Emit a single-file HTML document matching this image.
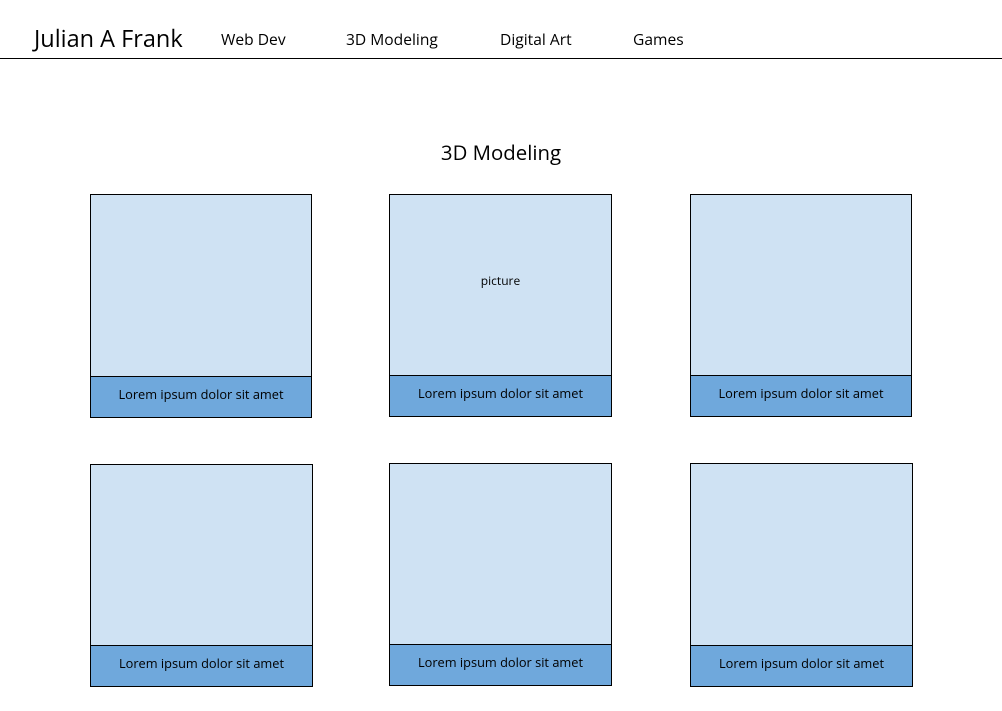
<!DOCTYPE html>
<html><head><style>
body{margin:0;width:1002px;height:711px;background:#fff;position:relative;font-family:"Open Sans","DejaVu Sans","Liberation Sans",sans-serif;color:#000;overflow:hidden}
.t{position:absolute;white-space:nowrap;line-height:1}
.p{position:absolute;background:#cfe2f3;border:1px solid #000;box-sizing:border-box}
.c{position:absolute;background:#6fa8dc;border:1px solid #000;box-sizing:border-box;font-size:12.8px;display:flex;align-items:center;justify-content:center;padding-bottom:6px}
</style></head><body>
<div class="t" style="left:34px;top:27px;font-size:23.5px">Julian A Frank</div>
<div class="t" style="left:221px;top:32px;font-size:15.6px">Web Dev</div>
<div class="t" style="left:346px;top:32px;font-size:15.6px">3D Modeling</div>
<div class="t" style="left:500px;top:32px;font-size:15.6px">Digital Art</div>
<div class="t" style="left:633px;top:32px;font-size:15.6px">Games</div>
<div style="position:absolute;left:0;top:58px;width:1002px;height:1px;background:#000"></div>
<div class="t" style="left:0;width:1002px;text-align:center;top:142px;font-size:20.4px">3D Modeling</div>

<div class="p" style="left:90px;top:194px;width:222px;height:183px"></div>
<div class="c" style="left:90px;top:376px;width:222px;height:42px">Lorem ipsum dolor sit amet</div>

<div class="p" style="left:389px;top:194px;width:223px;height:182px;display:flex;align-items:center;justify-content:center;font-size:12px;padding-bottom:10px">picture</div>
<div class="c" style="left:389px;top:375px;width:223px;height:42px">Lorem ipsum dolor sit amet</div>

<div class="p" style="left:690px;top:194px;width:222px;height:182px"></div>
<div class="c" style="left:690px;top:375px;width:222px;height:42px">Lorem ipsum dolor sit amet</div>

<div class="p" style="left:90px;top:464px;width:223px;height:182px"></div>
<div class="c" style="left:90px;top:645px;width:223px;height:42px">Lorem ipsum dolor sit amet</div>

<div class="p" style="left:389px;top:463px;width:223px;height:182px"></div>
<div class="c" style="left:389px;top:644px;width:223px;height:42px">Lorem ipsum dolor sit amet</div>

<div class="p" style="left:690px;top:463px;width:223px;height:183px"></div>
<div class="c" style="left:690px;top:645px;width:223px;height:42px">Lorem ipsum dolor sit amet</div>
</body></html>
